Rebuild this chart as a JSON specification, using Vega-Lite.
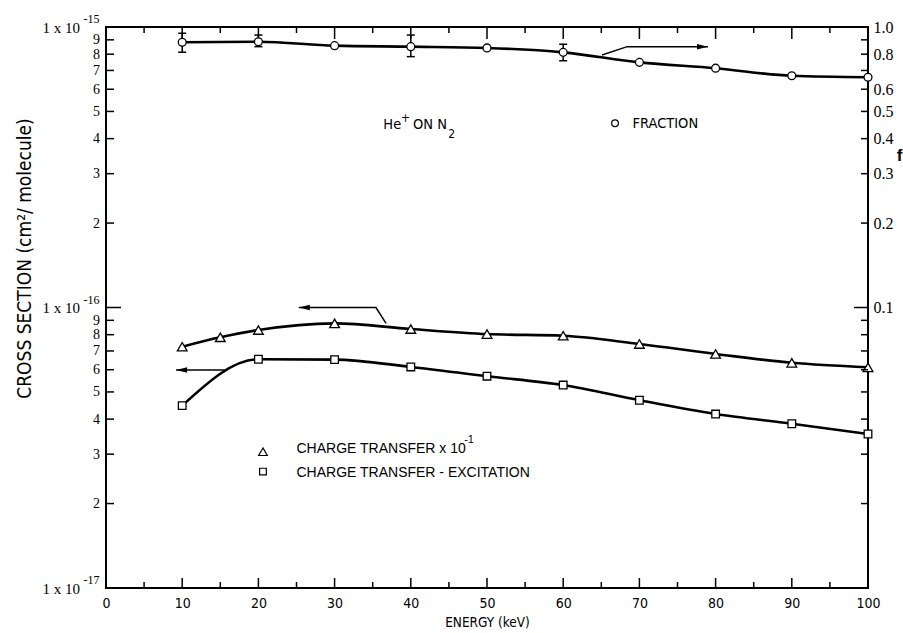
{
  "$schema": "https://vega.github.io/schema/vega-lite/v6.json",
  "width": 762,
  "height": 561,
  "autosize": {"type": "none"},
  "padding": {"left": 106, "top": 27, "right": 35, "bottom": 45},
  "background": "white",
  "config": {
    "view": {"stroke": "black", "strokeWidth": 2},
    "axis": {"domain": false, "ticks": false, "grid": false, "labelColor": "black", "titleColor": "black", "labelFlush": false, "labelOverlap": false, "labelBound": false}
  },
  "datasets": {
    "tri": [{"x":10,"v":7.25e-17},{"x":15,"v":7.83e-17},{"x":20,"v":8.31e-17},{"x":30,"v":8.78e-17},{"x":40,"v":8.38e-17},{"x":50,"v":8.04e-17},{"x":60,"v":7.93e-17},{"x":70,"v":7.41e-17},{"x":80,"v":6.83e-17},{"x":90,"v":6.35e-17},{"x":100,"v":6.12e-17}],
    "sq": [{"x":10,"v":4.47e-17},{"x":20,"v":6.54e-17},{"x":30,"v":6.52e-17},{"x":40,"v":6.14e-17},{"x":50,"v":5.69e-17},{"x":60,"v":5.29e-17},{"x":70,"v":4.67e-17},{"x":80,"v":4.17e-17},{"x":90,"v":3.85e-17},{"x":100,"v":3.54e-17}],
    "frac": [{"x":10,"f":0.882},{"x":20,"f":0.886},{"x":30,"f":0.858},{"x":40,"f":0.851},{"x":50,"f":0.842},{"x":60,"f":0.812},{"x":70,"f":0.748},{"x":80,"f":0.713},{"x":90,"f":0.670},{"x":100,"f":0.662}],
    "err": [{"x":10,"lo":0.813,"hi":0.95},{"x":20,"lo":0.851,"hi":0.936},{"x":40,"lo":0.784,"hi":0.936},{"x":60,"lo":0.758,"hi":0.868}],
    "arrL": [{"g":"t","o":1,"x":36.75,"v":8.78e-17},{"g":"t","o":2,"x":35.43,"v":1.0e-16},{"g":"t","o":3,"x":25.3,"v":1.0e-16},{"g":"s","o":1,"x":15.6,"v":5.99e-17},{"g":"s","o":2,"x":9.2,"v":5.99e-17}],
    "headL": [{"x":25.3,"v":1.0e-16},{"x":9.2,"v":5.99e-17}],
    "arrR": [{"g":"f","o":1,"x":65.1,"f":0.795},{"g":"f","o":2,"x":68.4,"f":0.851},{"g":"f","o":3,"x":79.0,"f":0.851}],
    "headR": [{"x":79.0,"f":0.851}],
    "ann": [{"x":36.4,"v":4.32e-16,"t":"He"},{"x":40.3,"v":4.32e-16,"t":"ON N"},{"x":69.1,"v":4.36e-16,"t":"FRACTION"}],
    "annSmall": [{"x":38.7,"v":4.58e-16,"t":"+"},{"x":44.9,"v":4.03e-16,"t":"2"}],
    "leg": [{"x":25.0,"v":3.02e-17,"t":"CHARGE TRANSFER x 10"},{"x":25.0,"v":2.49e-17,"t":"CHARGE TRANSFER - EXCITATION"}],
    "legSup": [{"x":47.0,"v":3.28e-17,"t":"-1"}],
    "legTri": [{"x":20.6,"v":3.06e-17}],
    "legSq": [{"x":20.6,"v":2.60e-17}],
    "legCirc": [{"x":66.8,"v":4.54e-16}],
    "expo": [{"x":0,"v":1e-15,"t":"-15"},{"x":0,"v":1e-16,"t":"-16"},{"x":0,"v":1e-17,"t":"-17"}],
    "tkY1": [{"v":2e-17},{"v":3e-17},{"v":4e-17},{"v":5e-17},{"v":6e-17},{"v":7e-17},{"v":8e-17},{"v":9e-17},{"v":2e-16},{"v":3e-16},{"v":4e-16},{"v":5e-16},{"v":6e-16},{"v":7e-16},{"v":8e-16},{"v":9e-16}],
    "tkY2": [{"v":1e-16}],
    "tkX1": [{"x":5},{"x":15},{"x":25},{"x":35},{"x":45},{"x":55},{"x":65},{"x":75},{"x":85},{"x":95}],
    "tkX2": [{"x":10},{"x":20},{"x":30},{"x":40},{"x":50},{"x":60},{"x":70},{"x":80},{"x":90}],
    "tkF1": [{"f":0.02},{"f":0.03},{"f":0.04},{"f":0.05},{"f":0.06},{"f":0.07},{"f":0.08},{"f":0.09},{"f":0.2},{"f":0.3},{"f":0.4},{"f":0.5},{"f":0.6},{"f":0.7},{"f":0.8},{"f":0.9}],
    "tkF2": [{"f":0.1}]
  },
  "layer": [
    {
      "resolve": {"axis": {"x": "independent", "y": "independent"}},
      "layer": [
        {
          "data": {"name": "tri"},
          "mark": {"type": "line", "interpolate": "monotone", "color": "black", "strokeWidth": 2.6},
          "encoding": {
            "x": {"field": "x", "type": "quantitative", "scale": {"domain": [0, 100], "nice": false, "zero": false},
              "axis": {"orient": "bottom", "values": [0,10,20,30,40,50,60,70,80,90,100], "labelPadding": 8,
                "labelFont": "DejaVu Sans Condensed, Liberation Sans, sans-serif", "labelFontSize": 14,
                "title": "ENERGY (keV)", "titleFont": "DejaVu Sans Condensed, Liberation Sans, sans-serif", "titleFontSize": 13.5, "titleFontWeight": "normal", "titleY": 38, "titleBaseline": "alphabetic"}},
            "y": {"field": "v", "type": "quantitative", "scale": {"type": "log", "domain": [1e-17, 1e-15], "nice": false},
              "axis": {"orient": "left",
                "values": [2e-17,3e-17,4e-17,5e-17,6e-17,7e-17,8e-17,9e-17,2e-16,3e-16,4e-16,5e-16,6e-16,7e-16,8e-16,9e-16],
                "labelExpr": "'' + round(datum.value / pow(10, floor(log(datum.value)/LN10 + 1e-6)))",
                "labelFont": "Liberation Serif, DejaVu Serif, serif", "labelFontSize": 14, "labelAlign": "right", "labelBaseline": "middle",
                "labelPadding": 6.5, "title": null}}
          }
        },
        {
          "data": {"name": "sq"},
          "mark": {"type": "line", "interpolate": "monotone", "color": "black", "strokeWidth": 2.6},
          "encoding": {
            "x": {"field": "x", "type": "quantitative", "axis": null},
            "y": {"field": "v", "type": "quantitative",
              "axis": {"orient": "left", "values": [1e-17, 1e-16, 1e-15], "labelExpr": "'1 x 10'",
                "labelFont": "Liberation Serif, DejaVu Serif, serif", "labelFontSize": 15, "labelAlign": "right", "labelBaseline": "middle",
                "labelPadding": 26.5,
                "title": "CROSS SECTION (cm²/ molecule)", "titleFont": "DejaVu Sans Condensed, Liberation Sans, sans-serif", "titleFontSize": 19, "titleFontWeight": "normal",
                "titleX": -76, "titleY": 231, "titleAngle": -90, "titleAlign": "center", "titleBaseline": "alphabetic"}}
          }
        },
        {
          "data": {"name": "tkY1"},
          "mark": {"type": "rule", "color": "black", "strokeWidth": 1.5},
          "encoding": {"y": {"field": "v", "type": "quantitative", "axis": null}, "x": {"datum": 0, "type": "quantitative", "axis": null}, "x2": {"datum": 1.05}}
        },
        {
          "data": {"name": "tkY2"},
          "mark": {"type": "rule", "color": "black", "strokeWidth": 1.5},
          "encoding": {"y": {"field": "v", "type": "quantitative", "axis": null}, "x": {"datum": 0, "type": "quantitative", "axis": null}, "x2": {"datum": 1.97}}
        },
        {
          "data": {"name": "tkX1"},
          "mark": {"type": "rule", "color": "black", "strokeWidth": 1.5},
          "encoding": {"x": {"field": "x", "type": "quantitative", "axis": null}, "y": {"datum": 1e-17, "type": "quantitative", "axis": null}, "y2": {"datum": 1.0505e-17}}
        },
        {
          "data": {"name": "tkX2"},
          "mark": {"type": "rule", "color": "black", "strokeWidth": 1.5},
          "encoding": {"x": {"field": "x", "type": "quantitative", "axis": null}, "y": {"datum": 1e-17, "type": "quantitative", "axis": null}, "y2": {"datum": 1.0856e-17}}
        },
        {
          "data": {"name": "expo"},
          "mark": {"type": "text", "align": "right", "baseline": "alphabetic", "dx": -6.5, "dy": -4, "font": "Liberation Serif, DejaVu Serif, serif", "fontSize": 12, "color": "black"},
          "encoding": {"x": {"field": "x", "type": "quantitative", "axis": null}, "y": {"field": "v", "type": "quantitative", "axis": null}, "text": {"field": "t"}}
        },
        {
          "data": {"name": "arrL"},
          "mark": {"type": "line", "color": "black", "strokeWidth": 1.5},
          "encoding": {"x": {"field": "x", "type": "quantitative", "axis": null}, "y": {"field": "v", "type": "quantitative", "axis": null}, "detail": {"field": "g"}, "order": {"field": "o"}}
        },
        {
          "data": {"name": "headL"},
          "mark": {"type": "point", "shape": "M0,0L2,-0.5L2,0.5Z", "size": 121, "filled": true, "color": "black", "opacity": 1},
          "encoding": {"x": {"field": "x", "type": "quantitative", "axis": null}, "y": {"field": "v", "type": "quantitative", "axis": null}}
        },
        {
          "data": {"name": "tri"},
          "mark": {"type": "point", "shape": "triangle-up", "size": 95, "fill": "white", "stroke": "black", "strokeWidth": 1.3, "opacity": 1, "fillOpacity": 1},
          "encoding": {"x": {"field": "x", "type": "quantitative", "axis": null}, "y": {"field": "v", "type": "quantitative", "axis": null}}
        },
        {
          "data": {"name": "sq"},
          "mark": {"type": "point", "shape": "square", "size": 58, "fill": "white", "stroke": "black", "strokeWidth": 1.3, "opacity": 1, "fillOpacity": 1},
          "encoding": {"x": {"field": "x", "type": "quantitative", "axis": null}, "y": {"field": "v", "type": "quantitative", "axis": null}}
        },
        {
          "data": {"name": "legTri"},
          "mark": {"type": "point", "shape": "triangle-up", "size": 75, "fill": "white", "stroke": "black", "strokeWidth": 1.2, "opacity": 1},
          "encoding": {"x": {"field": "x", "type": "quantitative", "axis": null}, "y": {"field": "v", "type": "quantitative", "axis": null}}
        },
        {
          "data": {"name": "legSq"},
          "mark": {"type": "point", "shape": "square", "size": 45, "fill": "white", "stroke": "black", "strokeWidth": 1.2, "opacity": 1},
          "encoding": {"x": {"field": "x", "type": "quantitative", "axis": null}, "y": {"field": "v", "type": "quantitative", "axis": null}}
        },
        {
          "data": {"name": "legCirc"},
          "mark": {"type": "point", "shape": "circle", "size": 45, "fill": "white", "stroke": "black", "strokeWidth": 1.2, "opacity": 1},
          "encoding": {"x": {"field": "x", "type": "quantitative", "axis": null}, "y": {"field": "v", "type": "quantitative", "axis": null}}
        },
        {
          "data": {"name": "ann"},
          "mark": {"type": "text", "align": "left", "baseline": "alphabetic", "font": "DejaVu Sans Condensed, Liberation Sans, sans-serif", "fontSize": 14.5, "color": "black"},
          "encoding": {"x": {"field": "x", "type": "quantitative", "axis": null}, "y": {"field": "v", "type": "quantitative", "axis": null}, "text": {"field": "t"}}
        },
        {
          "data": {"name": "annSmall"},
          "mark": {"type": "text", "align": "left", "baseline": "alphabetic", "font": "DejaVu Sans Condensed, Liberation Sans, sans-serif", "fontSize": 12, "color": "black"},
          "encoding": {"x": {"field": "x", "type": "quantitative", "axis": null}, "y": {"field": "v", "type": "quantitative", "axis": null}, "text": {"field": "t"}}
        },
        {
          "data": {"name": "leg"},
          "mark": {"type": "text", "align": "left", "baseline": "alphabetic", "font": "Liberation Sans, Arial, sans-serif", "fontSize": 14, "color": "black"},
          "encoding": {"x": {"field": "x", "type": "quantitative", "axis": null}, "y": {"field": "v", "type": "quantitative", "axis": null}, "text": {"field": "t"}}
        },
        {
          "data": {"name": "legSup"},
          "mark": {"type": "text", "align": "left", "baseline": "alphabetic", "font": "Liberation Sans, Arial, sans-serif", "fontSize": 11, "color": "black"},
          "encoding": {"x": {"field": "x", "type": "quantitative", "axis": null}, "y": {"field": "v", "type": "quantitative", "axis": null}, "text": {"field": "t"}}
        }
      ]
    },
    {
      "resolve": {"axis": {"x": "independent", "y": "independent"}},
      "layer": [
        {
          "data": {"name": "frac"},
          "mark": {"type": "line", "interpolate": "monotone", "color": "black", "strokeWidth": 2.6},
          "encoding": {
            "x": {"field": "x", "type": "quantitative", "axis": null},
            "y": {"field": "f", "type": "quantitative", "scale": {"type": "log", "domain": [0.01, 1], "nice": false},
              "axis": {"orient": "right",
                "values": [0.1,0.2,0.3,0.4,0.5,0.6,0.8,1.0],
                "labelExpr": "format(datum.value, '.1f')",
                "labelFont": "Liberation Serif, DejaVu Serif, serif", "labelFontSize": 16, "labelAlign": "left", "labelBaseline": "middle",
                "labelPadding": 5,
                "title": "f", "titleFont": "Liberation Sans, Arial, sans-serif", "titleFontSize": 17, "titleFontWeight": "bold",
                "titleAngle": 0, "titleX": 31, "titleY": 133, "titleAlign": "center", "titleBaseline": "alphabetic"}}
          }
        },
        {
          "data": {"name": "tkF1"},
          "mark": {"type": "rule", "color": "black", "strokeWidth": 1.5},
          "encoding": {"y": {"field": "f", "type": "quantitative", "axis": null}, "x": {"datum": 100, "type": "quantitative", "axis": null}, "x2": {"datum": 99.08}}
        },
        {
          "data": {"name": "tkF2"},
          "mark": {"type": "rule", "color": "black", "strokeWidth": 1.5},
          "encoding": {"y": {"field": "f", "type": "quantitative", "axis": null}, "x": {"datum": 100, "type": "quantitative", "axis": null}, "x2": {"datum": 98.16}}
        },
        {
          "data": {"name": "tkX1"},
          "mark": {"type": "rule", "color": "black", "strokeWidth": 1.5},
          "encoding": {"x": {"field": "x", "type": "quantitative", "axis": null}, "y": {"datum": 1, "type": "quantitative", "axis": null}, "y2": {"datum": 0.9519}}
        },
        {
          "data": {"name": "tkX2"},
          "mark": {"type": "rule", "color": "black", "strokeWidth": 1.5},
          "encoding": {"x": {"field": "x", "type": "quantitative", "axis": null}, "y": {"datum": 1, "type": "quantitative", "axis": null}, "y2": {"datum": 0.9062}}
        },
        {
          "data": {"name": "err"},
          "mark": {"type": "rule", "color": "black", "strokeWidth": 1.5},
          "encoding": {"x": {"field": "x", "type": "quantitative", "axis": null}, "y": {"field": "lo", "type": "quantitative", "axis": null}, "y2": {"field": "hi"}}
        },
        {
          "data": {"name": "err"},
          "mark": {"type": "point", "shape": "M-1,0L1,0", "size": 64, "stroke": "black", "strokeWidth": 1.5, "opacity": 1, "filled": false},
          "encoding": {"x": {"field": "x", "type": "quantitative", "axis": null}, "y": {"field": "lo", "type": "quantitative", "axis": null}}
        },
        {
          "data": {"name": "err"},
          "mark": {"type": "point", "shape": "M-1,0L1,0", "size": 64, "stroke": "black", "strokeWidth": 1.5, "opacity": 1, "filled": false},
          "encoding": {"x": {"field": "x", "type": "quantitative", "axis": null}, "y": {"field": "hi", "type": "quantitative", "axis": null}}
        },
        {
          "data": {"name": "arrR"},
          "mark": {"type": "line", "color": "black", "strokeWidth": 1.5},
          "encoding": {"x": {"field": "x", "type": "quantitative", "axis": null}, "y": {"field": "f", "type": "quantitative", "axis": null}, "detail": {"field": "g"}, "order": {"field": "o"}}
        },
        {
          "data": {"name": "headR"},
          "mark": {"type": "point", "shape": "M0,0L-2,-0.5L-2,0.5Z", "size": 121, "filled": true, "color": "black", "opacity": 1},
          "encoding": {"x": {"field": "x", "type": "quantitative", "axis": null}, "y": {"field": "f", "type": "quantitative", "axis": null}}
        },
        {
          "data": {"name": "frac"},
          "mark": {"type": "point", "shape": "circle", "size": 62, "fill": "white", "stroke": "black", "strokeWidth": 1.3, "opacity": 1, "fillOpacity": 1},
          "encoding": {"x": {"field": "x", "type": "quantitative", "axis": null}, "y": {"field": "f", "type": "quantitative", "axis": null}}
        }
      ]
    }
  ],
  "resolve": {"scale": {"y": "independent"}, "axis": {"x": "independent", "y": "independent"}}
}
